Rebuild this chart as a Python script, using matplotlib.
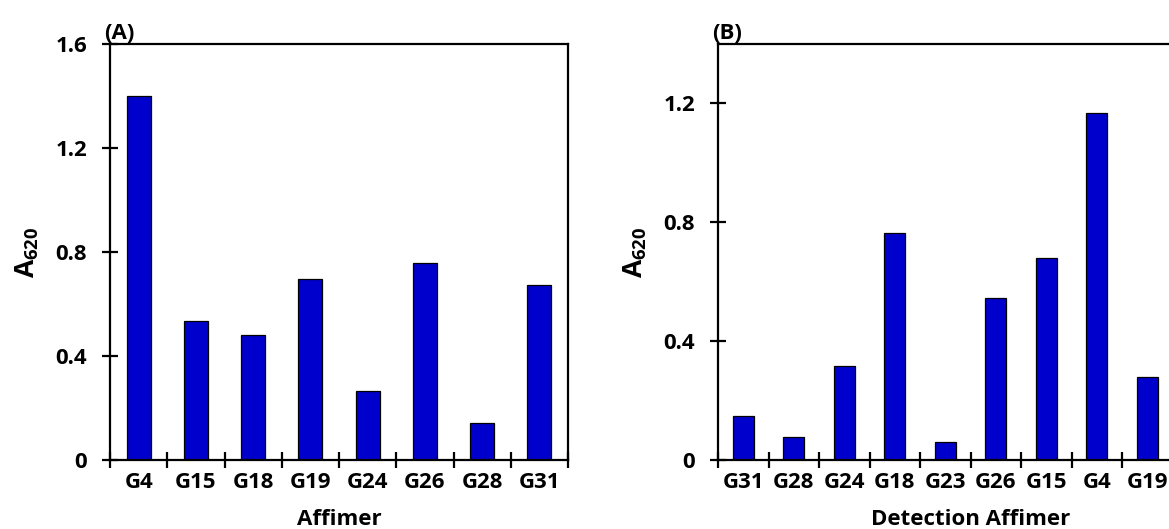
import matplotlib
matplotlib.use("Agg")
import matplotlib.pyplot as plt
import numpy as np

# Data
cats_a = ["G4", "G15", "G18", "G19", "G24", "G26", "G28", "G31"]
vals_a = [1.40, 0.536, 0.482, 0.698, 0.266, 0.758, 0.142, 0.673]
yticks_a = [0, 0.4, 0.8, 1.2, 1.6]
ytick_labels_a = ["0", "0.4", "0.8", "1.2", "1.6"]

cats_b = ["G31", "G28", "G24", "G18", "G23", "G26", "G15", "G4", "G19"]
vals_b = [0.149, 0.078, 0.315, 0.764, 0.060, 0.545, 0.681, 1.167, 0.281]
yticks_b = [0, 0.4, 0.8, 1.2]
ytick_labels_b = ["0", "0.4", "0.8", "1.2"]

plt.rcParams['font.family'] = ['Open Sans', 'DejaVu Sans']
plt.rcParams['font.weight'] = 'bold'
plt.rcParams['mathtext.fontset'] = 'custom'
plt.rcParams['mathtext.bf'] = 'Open Sans:bold'
plt.rcParams['mathtext.rm'] = 'Open Sans:bold'
plt.rcParams['mathtext.it'] = 'Open Sans:bold'

W, H = 1169, 529
fig = plt.figure(figsize=(W / 100, H / 100), dpi=100)

bar_color = "#0000CC"
FS = 16


def setup(ax, cats, vals, ymax, yticks, yticklabels, xlabel, nslots, tag):
    x = np.arange(len(cats))
    ax.bar(x, vals, width=0.42, color=bar_color, edgecolor="black", linewidth=0.9, zorder=2)
    ax.set_xlim(-0.5, nslots - 0.5)
    ax.set_ylim(0, ymax)
    ax.set_yticks(yticks)
    ax.set_yticklabels(yticklabels)
    ax.set_xticks(x)
    ax.set_xticklabels(cats)
    ax.set_xticks(np.arange(nslots + 1) - 0.5, minor=True)
    for s in ax.spines.values():
        s.set_linewidth(1.6)
    ax.tick_params(axis='x', which='major', length=0, pad=9, labelsize=FS)
    ax.tick_params(axis='x', which='minor', direction='inout', length=11, width=1.6)
    ax.tick_params(axis='y', which='major', direction='inout', length=11, width=1.6,
                   pad=11, labelsize=FS)
    for lab in ax.get_xticklabels() + ax.get_yticklabels():
        lab.set_fontweight('bold')
    ax.set_xlabel(xlabel, fontsize=FS, fontweight='bold', labelpad=11)
    ax.set_ylabel("$\\mathbf{A_{620}}$", fontsize=19, labelpad=10)
    ax.text(-0.012, 1.0, tag, transform=ax.transAxes, fontsize=FS, fontweight='bold',
            ha='left', va='bottom')


bottom = (H - 460) / H
top = (H - 44) / H
axA = fig.add_axes([110 / W, bottom, (568 - 110) / W, top - bottom])
setup(axA, cats_a, vals_a, 1.6, yticks_a, ytick_labels_a, "Affimer", len(cats_a), "(A)")

axB = fig.add_axes([718 / W, bottom, 505 / W, top - bottom])
setup(axB, cats_b, vals_b, 1.4, yticks_b, ytick_labels_b, "Detection Affimer", 10, "(B)")

fig.savefig("out.png", dpi=100)
